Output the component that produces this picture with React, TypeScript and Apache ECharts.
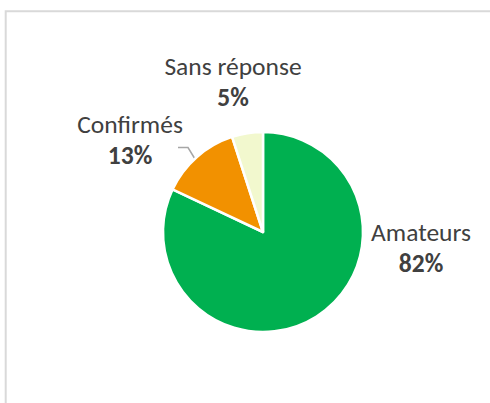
import React, { useEffect, useRef } from "react";
import * as echarts from "echarts";

const categories = ["Amateurs", "Confirmés", "Sans réponse"];
const values = [82, 13, 5];
const pctLabels = ["82%", "13%", "5%"];

const colors = ["#00B050", "#F29100", "#F2F8CE"];
const labelPos = [
  { x: 421, y: 248 },
  { x: 130, y: 140 },
  { x: 233, y: 82 },
];

export default function App() {
  const ref = useRef<HTMLDivElement>(null);
  useEffect(() => {
    if (!ref.current) return;
    const chart = echarts.init(ref.current, null, { renderer: "svg" });
    const font = "Calibri, Carlito, 'Liberation Sans', Arial, sans-serif";
    chart.setOption({
      animation: false,
      backgroundColor: "#ffffff",
      graphic: [
        {
          type: "rect",
          shape: { x: 5.7, y: 11.3, width: 700, height: 700 },
          style: { fill: "none", stroke: "#d9d9d9", lineWidth: 2 },
          silent: true,
        },
      ],
      series: [
        {
          type: "pie",
          center: [263, 232],
          radius: [0, 100],
          startAngle: 90,
          clockwise: true,
          itemStyle: { borderColor: "#ffffff", borderWidth: 2.5 },
          label: {
            show: true,
            position: "outside",
            fontFamily: font,
            color: "#404040",
            formatter: (p: any) => `{n|${p.name}}\n{v|${pctLabels[p.dataIndex]}}`,
            rich: {
              n: { fontSize: 25.5, fontFamily: font, color: "#404040", lineHeight: 31 },
              v: { fontSize: 25.5, fontFamily: font, color: "#404040", fontWeight: "bold", lineHeight: 31 },
            },
          },
          labelLine: { show: true, lineStyle: { color: "#a6a6a6", width: 1.5 } },
          labelLayout: (params: any) => {
            const i = params.dataIndex;
            const pos = labelPos[i];
            const out: any = { x: pos.x, y: pos.y, align: "center", verticalAlign: "middle" };
            if (i === 1) {
              out.labelLinePoints = [
                [195, 159],
                [188, 147.5],
                [178, 147.5],
              ];
            }
            return out;
          },
          data: categories.map((name, i) => ({
            name,
            value: values[i],
            itemStyle: { color: colors[i] },
            labelLine: { show: i === 1 },
          })),
        },
      ],
    });
    return () => chart.dispose();
  }, []);
  return (
    <div
      ref={ref}
      style={{ position: "fixed", left: 0, top: 0, width: 490, height: 403 }}
    />
  );
}
